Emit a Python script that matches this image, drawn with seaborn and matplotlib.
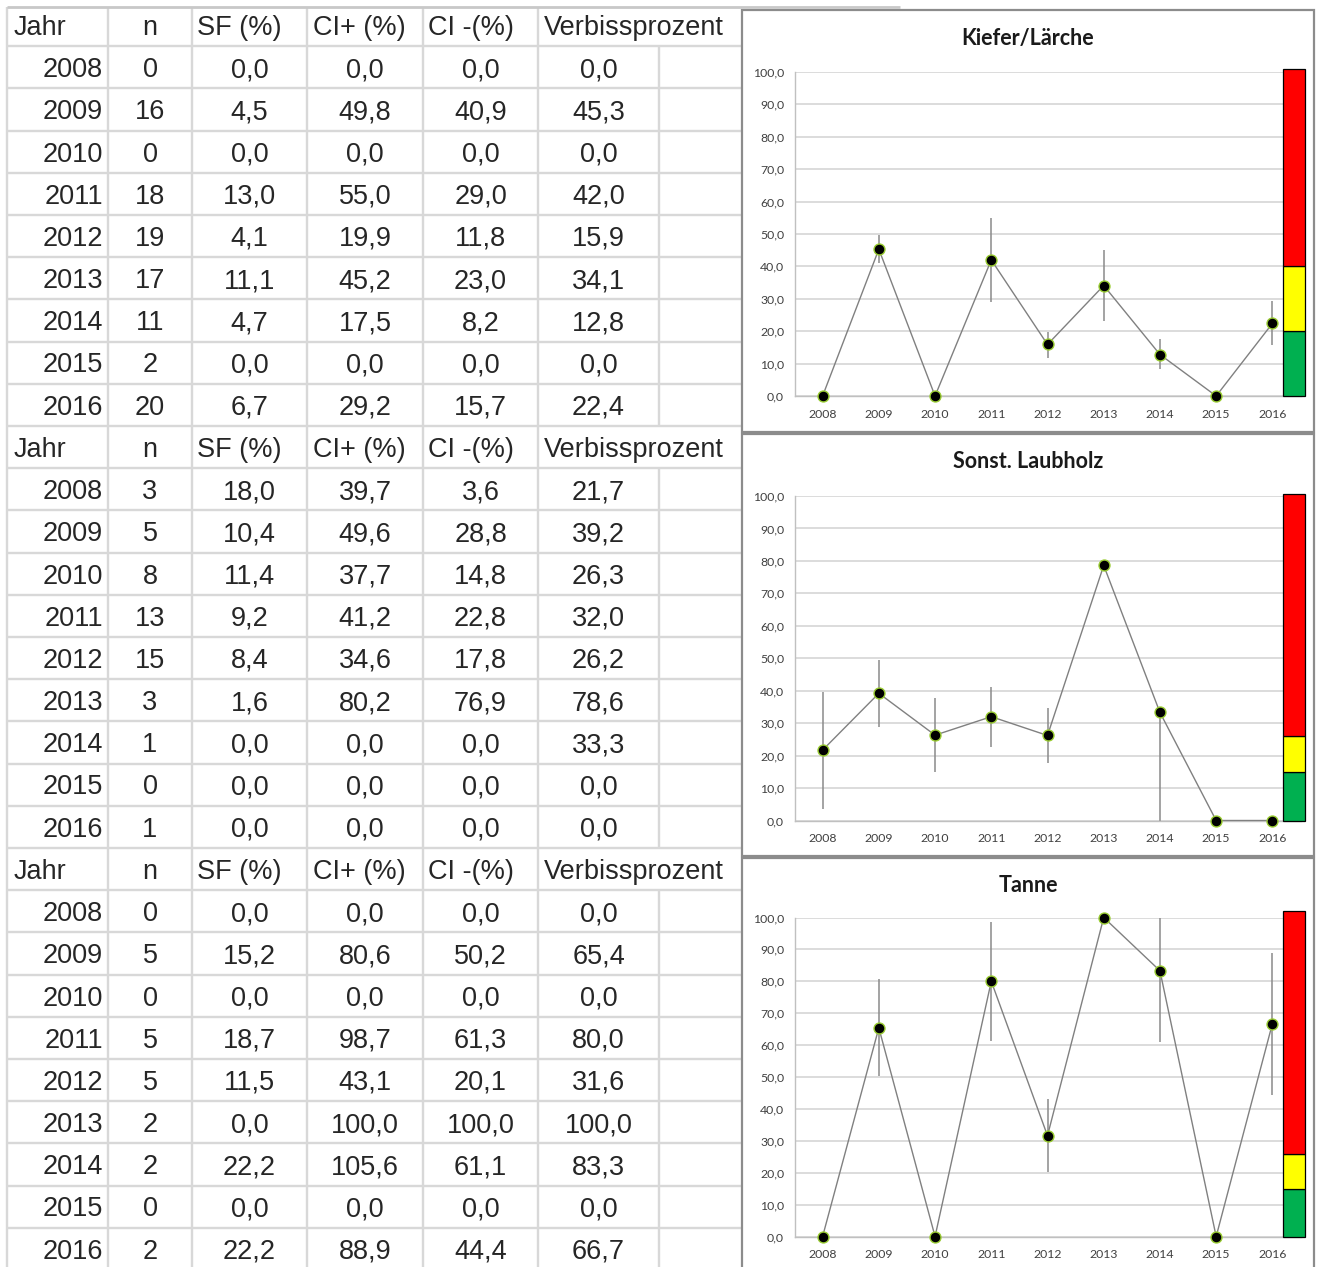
import numpy as np
import pandas as pd
import matplotlib
matplotlib.use("Agg")
import matplotlib.pyplot as plt
from matplotlib.patches import Rectangle
from matplotlib.ticker import FuncFormatter
import seaborn as sns

# ---------------- data ----------------
years = [2008, 2009, 2010, 2011, 2012, 2013, 2014, 2015, 2016]
species = ["Kiefer/Lärche", "Sonst. Laubholz", "Tanne"]
header_labels = ["Jahr", "n", "SF (%)", "CI+ (%)", "CI -(%)", "Verbissprozent"]

n_kl = [0, 16, 0, 18, 19, 17, 11, 2, 20]
sf_kl = [0.0, 4.5, 0.0, 13.0, 4.1, 11.1, 4.7, 0.0, 6.7]
ci_plus_kl = [0.0, 49.8, 0.0, 55.0, 19.9, 45.2, 17.5, 0.0, 29.2]
ci_minus_kl = [0.0, 40.9, 0.0, 29.0, 11.8, 23.0, 8.2, 0.0, 15.7]
verbiss_kl = [0.0, 45.3, 0.0, 42.0, 15.9, 34.1, 12.8, 0.0, 22.4]

n_lh = [3, 5, 8, 13, 15, 3, 1, 0, 1]
sf_lh = [18.0, 10.4, 11.4, 9.2, 8.4, 1.6, 0.0, 0.0, 0.0]
ci_plus_lh = [39.7, 49.6, 37.7, 41.2, 34.6, 80.2, 0.0, 0.0, 0.0]
ci_minus_lh = [3.6, 28.8, 14.8, 22.8, 17.8, 76.9, 0.0, 0.0, 0.0]
verbiss_lh = [21.7, 39.2, 26.3, 32.0, 26.2, 78.6, 33.3, 0.0, 0.0]

n_ta = [0, 5, 0, 5, 5, 2, 2, 0, 2]
sf_ta = [0.0, 15.2, 0.0, 18.7, 11.5, 0.0, 22.2, 0.0, 22.2]
ci_plus_ta = [0.0, 80.6, 0.0, 98.7, 43.1, 100.0, 105.6, 0.0, 88.9]
ci_minus_ta = [0.0, 50.2, 0.0, 61.3, 20.1, 100.0, 61.1, 0.0, 44.4]
verbiss_ta = [0.0, 65.4, 0.0, 80.0, 31.6, 100.0, 83.3, 0.0, 66.7]

# traffic-light classes: upper limits of green, yellow, red
limits_kl = [20.0, 40.0, 101.0]
limits_lh = [15.0, 26.0, 100.5]
limits_ta = [15.0, 26.0, 102.0]
class_colors = ["#00b050", "#ffff00", "#ff0000"]

tables = [
    (n_kl, sf_kl, ci_plus_kl, ci_minus_kl, verbiss_kl),
    (n_lh, sf_lh, ci_plus_lh, ci_minus_lh, verbiss_lh),
    (n_ta, sf_ta, ci_plus_ta, ci_minus_ta, verbiss_ta),
]
limits = [limits_kl, limits_lh, limits_ta]

# ---------------- style ----------------
sns.set_style("white")
plt.rcParams["font.family"] = ["Liberation Sans", "DejaVu Sans"]
chart_font = ["Lato", "DejaVu Sans"]


def fmt(v):
    return f"{v:.1f}".replace(".", ",")


W, H = 1318, 1267
fig = plt.figure(figsize=(W / 100, H / 100), dpi=100)
fig.patch.set_facecolor("white")

# background layer in pixel coordinates (table + chart frames)
bg = fig.add_axes([0, 0, 1, 1])
bg.set_xlim(0, W)
bg.set_ylim(H, 0)
bg.axis("off")

grid_c = "#d8d8d8"
top = 4.0
row_h = 42.2
n_rows = 30
table_left, table_right = 7, 742
col_x = [7, 108, 192, 307, 423, 538]
col_last = 659

for k in range(1, n_rows + 1):
    y = top + k * row_h
    bg.hlines(y, table_left, table_right, color=grid_c, lw=1.7, zorder=1)
bg.hlines(7, table_left, 900, color="#c8c8c8", lw=2.0, zorder=6)
for x in col_x:
    bg.vlines(x, 7, top + n_rows * row_h, color=grid_c, lw=1.7, zorder=1)
for b in range(3):
    y0 = top + (b * 10 + 1) * row_h
    bg.vlines(col_last, y0, y0 + 9 * row_h, color=grid_c, lw=1.7, zorder=1)

fs = 19.5
for b, (n_vals, sf_vals, cip, cim, vp) in enumerate(tables):
    yc = top + (b * 10 + 0.5) * row_h
    yb = yc + 9.5
    bg.text(14, yb, header_labels[0], ha="left", va="baseline", fontsize=fs, zorder=2)
    bg.text(150, yb, header_labels[1], ha="center", va="baseline", fontsize=fs, zorder=2)
    bg.text(197, yb, header_labels[2], ha="left", va="baseline", fontsize=fs, zorder=2)
    bg.text(313, yb, header_labels[3], ha="left", va="baseline", fontsize=fs, zorder=2)
    bg.text(428, yb, header_labels[4], ha="left", va="baseline", fontsize=fs, zorder=2)
    bg.text(544, yb, header_labels[5], ha="left", va="baseline", fontsize=fs, zorder=2)
    for r, yr in enumerate(years):
        yc = top + (b * 10 + 1 + r + 0.5) * row_h
        yb = yc + 9.8
        bg.text(103, yb, str(yr), ha="right", va="baseline", fontsize=fs, zorder=2)
        bg.text(150, yb, str(n_vals[r]), ha="center", va="baseline", fontsize=fs, zorder=2)
        bg.text(249.5, yb, fmt(sf_vals[r]), ha="center", va="baseline", fontsize=fs, zorder=2)
        bg.text(365, yb, fmt(cip[r]), ha="center", va="baseline", fontsize=fs, zorder=2)
        bg.text(480.5, yb, fmt(cim[r]), ha="center", va="baseline", fontsize=fs, zorder=2)
        bg.text(598.5, yb, fmt(vp[r]), ha="center", va="baseline", fontsize=fs, zorder=2)

# chart frames
frames = [(10, 432), (434, 856), (858, 1280)]
for (ft, fb) in frames:
    bg.add_patch(Rectangle((742, ft), 1314 - 742, fb - ft, facecolor="white",
                           edgecolor="#8c8c8c", lw=1.6, zorder=5))

title_y = [38, 462, 885]
for name, ty in zip(species, title_y):
    bg.text(1028, ty, name, ha="center", va="center", fontsize=15.5,
            fontweight="bold", family=chart_font, color="#1a1a1a", zorder=7)

# ---------------- charts ----------------
ax_left, ax_right = 794.5, 1300.5
ax_spans = [(72, 396), (496, 820.5), (917.5, 1236.5)]
pos = np.arange(len(years))
line_c = "#808080"
axis_c = "#c0c0c0"

for i, (t, b) in enumerate(ax_spans):
    ax = fig.add_axes([ax_left / W, 1 - b / H, (ax_right - ax_left) / W, (b - t) / H])
    ax.set_facecolor("none")
    n_vals, sf_vals, cip, cim, vp = tables[i]
    df = pd.DataFrame({"pos": pos, "verbiss": vp, "ci_plus": cip, "ci_minus": cim})
    lo = df[["verbiss", "ci_plus", "ci_minus"]].min(axis=1)
    hi = df[["verbiss", "ci_plus", "ci_minus"]].max(axis=1)

    ax.vlines(df["pos"], lo, hi, color="#8a8a8a", lw=1.1, zorder=2)
    sns.lineplot(data=df, x="pos", y="verbiss", color=line_c, lw=1.0, ax=ax,
                 zorder=3, legend=False)
    sns.scatterplot(data=df, x="pos", y="verbiss", s=62, color="black",
                    edgecolor="#9acd32", linewidth=1.0, ax=ax, zorder=4,
                    clip_on=False, legend=False)

    # traffic-light column next to the last year
    lims = limits[i]
    bottoms = [0.0] + lims[:-1]
    for c, lo_b, hi_b in zip(class_colors, bottoms, lims):
        ax.bar(pos[-1] + 0.39, hi_b - lo_b, bottom=lo_b, width=0.39, color=c,
               edgecolor="black", linewidth=0.9, clip_on=False, zorder=5)

    ax.set_xlim(-0.5, len(years) - 0.5)
    ax.set_ylim(0, 100)
    ax.set_yticks(np.arange(0, 101, 10))
    ax.yaxis.set_major_formatter(FuncFormatter(lambda v, p: fmt(v)))
    ax.set_xticks(pos)
    ax.set_xticklabels([str(y) for y in years])
    ax.set_xticks(np.arange(-0.5, len(years), 1.0), minor=True)
    ax.yaxis.grid(True, color="#d9d9d9", lw=1.3)
    ax.xaxis.grid(False)
    ax.set_axisbelow(True)
    ax.set_xlabel("")
    ax.set_ylabel("")
    for s in ["top", "right"]:
        ax.spines[s].set_visible(False)
    for s in ["left", "bottom"]:
        ax.spines[s].set_color(axis_c)
        ax.spines[s].set_linewidth(1.0)
    ax.tick_params(axis="x", which="major", length=0, pad=9, labelsize=8.8,
                   labelcolor="#404040")
    ax.tick_params(axis="x", which="minor", length=4.5, color=axis_c, width=1.0,
                   direction="out")
    ax.tick_params(axis="y", which="major", length=4.5, color=axis_c, width=1.0,
                   direction="out", pad=3, labelsize=8.8, labelcolor="#404040")
    for lab in ax.get_xticklabels() + ax.get_yticklabels():
        lab.set_family(chart_font)

fig.savefig("out.png", dpi=100, facecolor="white")
